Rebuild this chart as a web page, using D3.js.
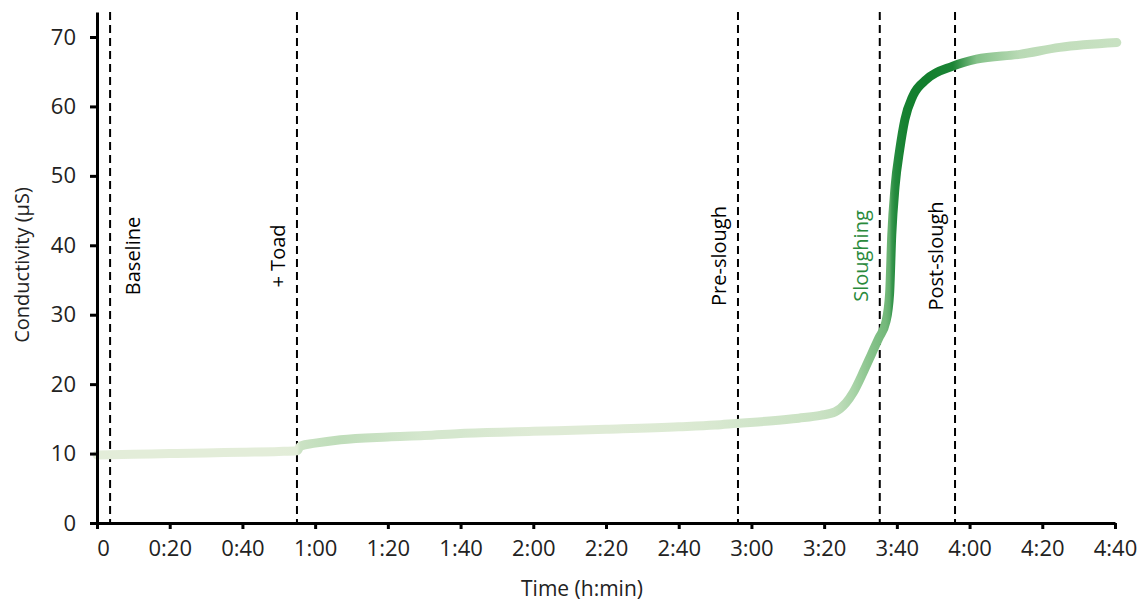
<!DOCTYPE html>
<html>
<head>
<meta charset="utf-8">
<script src="https://cdn.jsdelivr.net/npm/d3@7"></script>
<style>
body{margin:0;background:#fff}
text{font-family:"Open Sans",sans-serif}
</style>
</head>
<body>
<div id="chart"></div>
<script>
// conductivity trace (minutes, µS)
var timeMin = [0,10,20,30,40,50,55,56,60,67,80,90,100,120,140,160,170,176,185,193,199,203,206,208,211,213,215,217,218,218.6,219.5,220.8,222.2,224.4,228.2,235.4,241.9,253.8,264.8,280.5];
var conductivity = [9.8,9.9,10.0,10.1,10.2,10.3,10.4,11.1,11.5,12.0,12.4,12.6,12.9,13.2,13.5,13.85,14.1,14.35,14.7,15.1,15.5,16.0,17.3,18.8,22.0,24.3,26.6,29.0,33.0,41.5,48.4,53.8,58.1,61.5,63.9,65.8,66.8,67.5,68.5,69.2];

var eventTimes = [3.6,55,176.3,215.3,236];
var eventLabels = ["Baseline","+ Toad","Pre-slough","Sloughing","Post-slough"];

var xTickValues = [0,20,40,60,80,100,120,140,160,180,200,220,240,260,280];
var xTickLabels = ["0","0:20","0:40","1:00","1:20","1:40","2:00","2:20","2:40","3:00","3:20","3:40","4:00","4:20","4:40"];
var yTickValues = [0,10,20,30,40,50,60,70];

var W = 1142, H = 605;
var svg = d3.select("#chart").append("svg").attr("width",W).attr("height",H);

var x = d3.scaleLinear().domain([0,280]).range([97,1115]);
var y = d3.scaleLinear().domain([0,73.6]).range([523,12]);

var pts = timeMin.map(function(t,i){ return [t, conductivity[i]]; });

// value at time t (for colouring only)
function valAt(t){
	if (t <= timeMin[0]) return conductivity[0];
	for (var i=1;i<timeMin.length;i++){
		if (t <= timeMin[i]){
			var f = (t-timeMin[i-1])/(timeMin[i]-timeMin[i-1]);
			return conductivity[i-1] + f*(conductivity[i]-conductivity[i-1]);
		}
	}
	return conductivity[conductivity.length-1];
}

// colour follows the recent rate of change (µS/min over the last 20 min)
var colour = d3.scaleLog()
	.domain([0.012,0.025,0.07,0.25,0.8,1.6,2.6])
	.range(["#e3edd9","#d5e7ce","#c4dfbe","#a3d1a3","#6cb474","#258b3f","#0b7a26"])
	.clamp(true);

var grad = svg.append("defs").append("linearGradient")
	.attr("id","trace").attr("gradientUnits","userSpaceOnUse")
	.attr("x1",x(0)).attr("x2",x(280)).attr("y1",0).attr("y2",0);

grad.selectAll("stop").data(pts).enter().append("stop")
	.attr("offset", function(d){ return Math.min(1,(x(d[0])-x(0))/(x(280)-x(0))); })
	.attr("stop-color", function(d){
		var s = (d[1]-valAt(d[0]-20))/20;
		return colour(Math.max(s,0.012));
	});

// dashed event lines
svg.selectAll("line.ev").data(eventTimes).enter().append("line")
	.attr("class","ev")
	.attr("x1",d => x(d)).attr("x2",d => x(d))
	.attr("y1",y(73.6)).attr("y2",y(0))
	.attr("stroke","#000").attr("stroke-width",2)
	.attr("stroke-dasharray","8,5");

// trace
var line = d3.line().x(d => x(d[0])).y(d => y(d[1])).curve(d3.curveMonotoneX);
svg.append("path").attr("d",line(pts))
	.attr("fill","none")
	.attr("stroke","url(#trace)")
	.attr("stroke-width",9)
	.attr("stroke-linecap","round")
	.attr("stroke-linejoin","round");

// event labels
svg.selectAll("text.ev").data(eventTimes).enter().append("text")
	.attr("class","ev")
	.attr("transform", function(d,i){
		var bx = i==0 ? x(d)+30 : x(d)-12;
		return "translate(" + bx + ",256) rotate(-90)";
	})
	.attr("text-anchor","middle")
	.attr("font-size","20px")
	.attr("fill", function(d,i){ return eventLabels[i]=="Sloughing" ? "#2a8a3c" : "#000"; })
	.text(function(d,i){ return eventLabels[i]; });

// axes
var xAxis = d3.axisBottom(x).tickValues(xTickValues)
	.tickFormat(function(d,i){ return xTickLabels[i]; })
	.tickSize(6).tickSizeOuter(0).tickPadding(11);
var yAxis = d3.axisLeft(y).tickValues(yTickValues)
	.tickSize(7).tickSizeOuter(0).tickPadding(14);

var gx = svg.append("g").attr("transform","translate(0,523)").call(xAxis);
var gy = svg.append("g").attr("transform","translate(97,0)").call(yAxis);

[gx,gy].forEach(function(g){
	g.select(".domain").attr("stroke","#000").attr("stroke-width",3);
	g.selectAll(".tick line").attr("stroke","#000").attr("stroke-width",3);
	g.selectAll(".tick text").attr("font-size","22px").attr("fill","#222")
		.style("font-family","'Open Sans',sans-serif");
});
gx.selectAll(".tick text").filter(d => d == 0).attr("dx",6);

svg.append("text").attr("x",582).attr("y",596)
	.attr("text-anchor","middle").attr("font-size","21px").attr("fill","#222")
	.text("Time (h:min)");
svg.append("text").attr("transform","translate(29,265) rotate(-90)")
	.attr("text-anchor","middle").attr("font-size","20px").attr("fill","#222")
	.text("Conductivity (µS)");
</script>
</body>
</html>
